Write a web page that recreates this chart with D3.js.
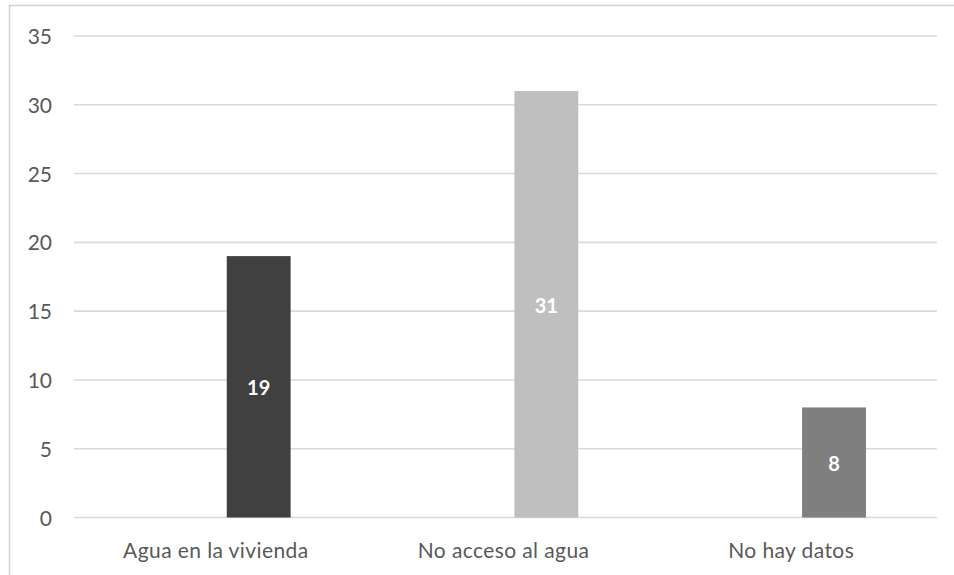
<!DOCTYPE html>
<html>
<head>
<meta charset="utf-8">
<script src="https://cdn.jsdelivr.net/npm/d3@7"></script>
<style>
  html, body { margin: 0; padding: 0; background: #ffffff; }
  svg { display: block; }
  text { font-family: Lato, "Liberation Sans", sans-serif; }
</style>
</head>
<body>
<svg id="chart" width="954" height="575"></svg>
<script>
// Acceso al agua: número de casos por categoría
const categories = ["Agua en la vivienda", "No acceso al agua", "No hay datos"];
const values = [19, 31, 8];
const barColors = ["#404040", "#bfbfbf", "#7f7f7f"];
const yTicks = [0, 5, 10, 15, 20, 25, 30, 35];

const svg = d3.select("#chart");
const W = 954, H = 575;
const margin = { left: 74, right: 17, top: 36, bottom: 57.5 };

// Chart frame (top and left edges visible)
svg.append("rect")
  .attr("x", 9.5).attr("y", 5.5)
  .attr("width", 1000).attr("height", 1000)
  .attr("fill", "none")
  .attr("stroke", "#d0d0d0")
  .attr("stroke-width", 1.5);

const x = d3.scaleBand()
  .domain(categories)
  .range([margin.left, W - margin.right])
  .paddingInner(0).paddingOuter(0);

const y = d3.scaleLinear()
  .domain([0, 35])
  .range([H - margin.bottom, margin.top]);

// Horizontal gridlines
svg.append("g")
  .selectAll("line")
  .data(yTicks)
  .join("line")
  .attr("x1", margin.left).attr("x2", W - margin.right)
  .attr("y1", d => y(d)).attr("y2", d => y(d))
  .attr("stroke", "#d9d9d9")
  .attr("stroke-width", 1.6);

// Y axis labels
const yAxis = d3.axisLeft(y).tickValues(yTicks).tickSize(0).tickPadding(0);
const gy = svg.append("g")
  .attr("transform", `translate(52,0)`)
  .call(yAxis);
gy.select(".domain").remove();
gy.selectAll("text")
  .attr("fill", "#595959")
  .style("font-size", "21px")
  .attr("dy", "0.36em");

// Bars sit right of each category centre
const barOffset = 0.531, barWidth = 0.222;
const bx = c => x(c) + x.bandwidth() * barOffset;
const bw = x.bandwidth() * barWidth;

svg.append("g")
  .selectAll("rect")
  .data(categories)
  .join("rect")
  .attr("x", c => bx(c))
  .attr("y", (c, i) => y(values[i]))
  .attr("width", bw)
  .attr("height", (c, i) => y(0) - y(values[i]))
  .attr("fill", (c, i) => barColors[i]);

// Value labels centred in each bar
svg.append("g")
  .selectAll("text")
  .data(categories)
  .join("text")
  .attr("x", c => bx(c) + bw / 2)
  .attr("y", (c, i) => y(values[i] / 2))
  .attr("dy", "0.42em")
  .attr("text-anchor", "middle")
  .attr("fill", "#ffffff")
  .style("font-size", "20px")
  .style("font-weight", "bold")
  .text((c, i) => values[i]);

// Category axis labels
const xAxis = d3.axisBottom(x).tickSize(0).tickPadding(0);
const gx = svg.append("g")
  .attr("transform", `translate(-2,${y(0)})`)
  .call(xAxis);
gx.select(".domain").remove();
gx.selectAll("text")
  .attr("fill", "#595959")
  .attr("y", 40.5)
  .attr("dy", 0)
  .style("font-size", "21px")
  .style("letter-spacing", "0.4px");
</script>
</body>
</html>
